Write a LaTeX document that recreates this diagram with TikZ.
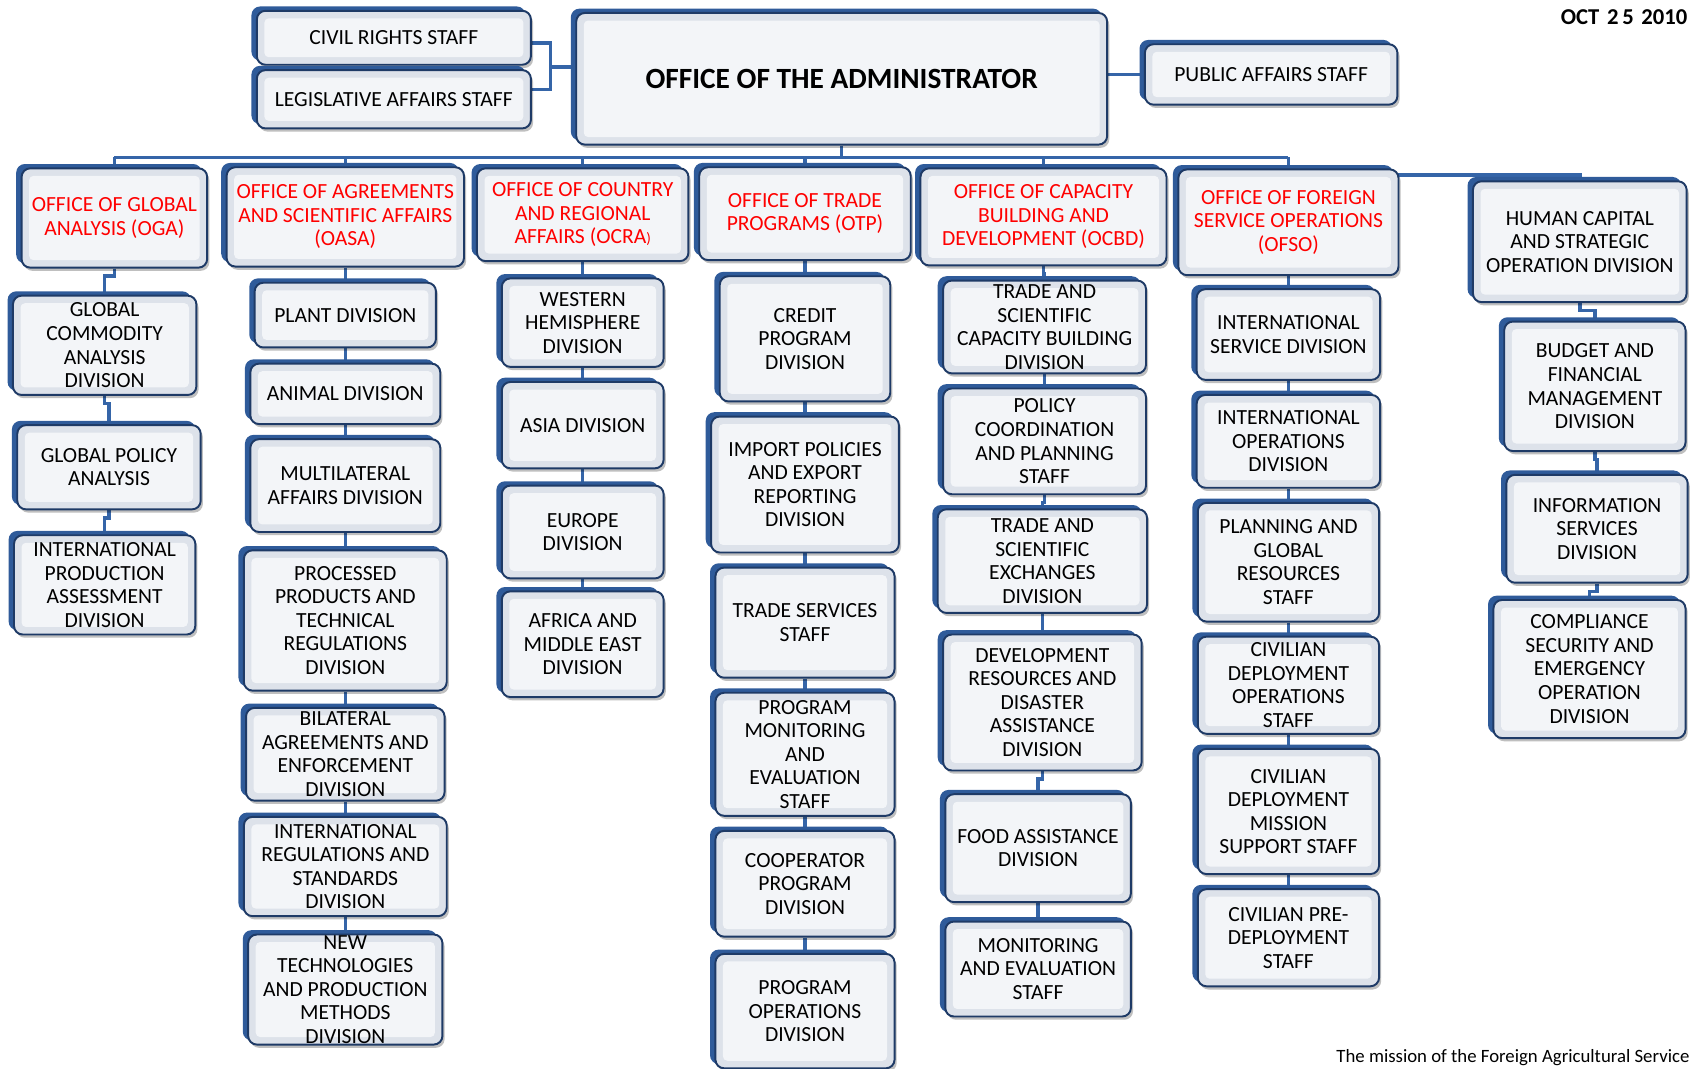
\documentclass[tikz,border=0pt]{standalone}
\usepackage{fontspec}
\setmainfont{Carlito}
\usetikzlibrary{shadows}
\usetikzlibrary{backgrounds}
\definecolor{linkblue}{HTML}{3565A8}
\definecolor{backblue}{HTML}{2F5B9A}
\definecolor{edgenavy}{HTML}{1E3A66}
\definecolor{boxfill}{HTML}{DDE2EA}
\definecolor{boxinner}{HTML}{F3F5F8}
\definecolor{headred}{HTML}{FF0000}
\newcommand\unitfont{\fontsize{10}{10.9}\selectfont}
\tikzset{x=0.5pt, y=-0.5pt, % one unit is one pixel of the chart
      unitbox/.style={ % Sets the properties for each office box
      rectangle, rounded corners=4pt,
      draw=edgenavy, line width=0.9pt,
      fill=boxfill, align=center, font=\unitfont,
      inner xsep=2pt, inner ysep=0pt,
      drop shadow={fill=black, opacity=0.25, shadow xshift=1pt, shadow yshift=-1.5pt},
      general shadow={fill=backblue, shadow xshift=-2.5pt, shadow yshift=2pt},
      path picture={\fill[boxinner, rounded corners=2pt]
            ([shift={(3.5pt,3.5pt)}]path picture bounding box.south west) rectangle
            ([shift={(-3.5pt,-3.5pt)}]path picture bounding box.north east);}},
      headbox/.style={unitbox, text=headred}, % Red office headers
      sz/.style 2 args={minimum width=#1*0.5pt, minimum height=#2*0.5pt},
      link/.style={draw=linkblue, line width=1.6pt}} % Connectors

\begin{document}
\begin{tikzpicture}
      \useasboundingbox (0,0) rectangle (1568,990);
      % top level
      \node[unitbox, sz={254}{50}] (civil) at (365,35) {CIVIL RIGHTS STAFF};
      \node[unitbox, sz={254}{54}] (legis) at (365,92) {LEGISLATIVE AFFAIRS STAFF};
      \node[unitbox, sz={492}{122}, font=\fontsize{13.6}{15}\selectfont\bfseries] (admin) at (780,73) {OFFICE OF THE ADMINISTRATOR};
      \node[unitbox, sz={234}{56}] (public) at (1178,69) {PUBLIC AFFAIRS STAFF};
      % offices
      \node[headbox, sz={172}{92}] (oga) at (106,202) {OFFICE OF GLOBAL\\ANALYSIS (OGA)};
      \node[headbox, sz={220}{92}] (oasa) at (320,201) {OFFICE OF AGREEMENTS\\AND SCIENTIFIC AFFAIRS\\(OASA)};
      \node[headbox, sz={196}{86}] (ocra) at (540,199) {OFFICE OF COUNTRY\\AND REGIONAL\\AFFAIRS (OCRA{\scriptsize)}};
      \node[headbox, sz={196}{86}] (otp) at (746,198) {OFFICE OF TRADE\\PROGRAMS (OTP)};
      \node[headbox, sz={228}{90}] (ocbd) at (967,201) {OFFICE OF CAPACITY\\BUILDING AND\\DEVELOPMENT (OCBD)};
      \node[headbox, sz={204}{98}] (ofso) at (1194,206) {OFFICE OF FOREIGN\\SERVICE OPERATIONS\\(OFSO)};
      \node[unitbox, sz={198}{112}] (hc) at (1464,224) {HUMAN CAPITAL\\AND STRATEGIC\\OPERATION DIVISION};
      % OGA
      \node[unitbox, sz={170}{92}] (gca) at (97,320) {GLOBAL\\COMMODITY\\ANALYSIS\\DIVISION};
      \node[unitbox, sz={170}{78}] (gpa) at (101,433) {GLOBAL POLICY\\ANALYSIS};
      \node[unitbox, sz={168}{92}] (ipa) at (97,542) {INTERNATIONAL\\PRODUCTION\\ASSESSMENT\\DIVISION};
      % OASA
      \node[unitbox, sz={168}{60}] (plant) at (320,292) {PLANT DIVISION};
      \node[unitbox, sz={176}{56}] (animal) at (320,365) {ANIMAL DIVISION};
      \node[unitbox, sz={176}{86}] (multi) at (320,450) {MULTILATERAL\\AFFAIRS DIVISION};
      \node[unitbox, sz={188}{130}] (procp) at (320,575) {PROCESSED\\PRODUCTS AND\\TECHNICAL\\REGULATIONS\\DIVISION};
      \node[unitbox, sz={184}{86}] (bilat) at (320,699) {BILATERAL\\AGREEMENTS AND\\ENFORCEMENT\\DIVISION};
      \node[unitbox, sz={188}{92}] (intreg) at (320,803) {INTERNATIONAL\\REGULATIONS AND\\STANDARDS\\DIVISION};
      \node[unitbox, sz={180}{102}] (newtech) at (320,917) {NEW\\TECHNOLOGIES\\AND PRODUCTION\\METHODS\\DIVISION};
      % OCRA
      \node[unitbox, sz={150}{82}] (whd) at (540,299) {WESTERN\\HEMISPHERE\\DIVISION};
      \node[unitbox, sz={150}{80}] (asia) at (540,394) {ASIA DIVISION};
      \node[unitbox, sz={150}{86}] (europe) at (540,493) {EUROPE\\DIVISION};
      \node[unitbox, sz={150}{98}] (africa) at (540,597) {AFRICA AND\\MIDDLE EAST\\DIVISION};
      % OTP
      \node[unitbox, sz={158}{116}] (credit) at (746,314) {CREDIT\\PROGRAM\\DIVISION};
      \node[unitbox, sz={174}{126}] (import) at (746,449) {IMPORT POLICIES\\AND EXPORT\\REPORTING\\DIVISION};
      \node[unitbox, sz={166}{102}] (tss) at (746,577) {TRADE SERVICES\\STAFF};
      \node[unitbox, sz={166}{114}] (pmes) at (746,699) {PROGRAM\\MONITORING\\AND\\EVALUATION\\STAFF};
      \node[unitbox, sz={166}{98}] (coop) at (746,819) {COOPERATOR\\PROGRAM\\DIVISION};
      \node[unitbox, sz={166}{106}] (progops) at (746,937) {PROGRAM\\OPERATIONS\\DIVISION};
      % OCBD
      \node[unitbox, sz={188}{86}] (tscb) at (968,303) {TRADE AND\\SCIENTIFIC\\CAPACITY BUILDING\\DIVISION};
      \node[unitbox, sz={188}{98}] (pcps) at (968,409) {POLICY\\COORDINATION\\AND PLANNING\\STAFF};
      \node[unitbox, sz={194}{96}] (tsed) at (966,520) {TRADE AND\\SCIENTIFIC\\EXCHANGES\\DIVISION};
      \node[unitbox, sz={184}{126}] (drda) at (966,651) {DEVELOPMENT\\RESOURCES AND\\DISASTER\\ASSISTANCE\\DIVISION};
      \node[unitbox, sz={172}{100}] (food) at (962,786) {FOOD ASSISTANCE\\DIVISION};
      \node[unitbox, sz={172}{88}] (mes) at (962,898) {MONITORING\\AND EVALUATION\\STAFF};
      % OFSO
      \node[unitbox, sz={170}{84}] (isd) at (1194,310) {INTERNATIONAL\\SERVICE DIVISION};
      \node[unitbox, sz={170}{86}] (iod) at (1194,409) {INTERNATIONAL\\OPERATIONS\\DIVISION};
      \node[unitbox, sz={168}{110}] (pgrs) at (1194,521) {PLANNING AND\\GLOBAL\\RESOURCES\\STAFF};
      \node[unitbox, sz={168}{90}] (cdos) at (1194,635) {CIVILIAN\\DEPLOYMENT\\OPERATIONS\\STAFF};
      \node[unitbox, sz={168}{116}] (cdmss) at (1194,752) {CIVILIAN\\DEPLOYMENT\\MISSION\\SUPPORT STAFF};
      \node[unitbox, sz={168}{90}] (cpds) at (1194,869) {CIVILIAN PRE-\\DEPLOYMENT\\STAFF};
      % human capital
      \node[unitbox, sz={168}{120}] (bfmd) at (1478,358) {BUDGET AND\\FINANCIAL\\MANAGEMENT\\DIVISION};
      \node[unitbox, sz={168}{100}] (isdiv) at (1480,490) {INFORMATION\\SERVICES\\DIVISION};
      \node[unitbox, sz={178}{128}] (csed) at (1473,620) {COMPLIANCE\\SECURITY AND\\EMERGENCY\\OPERATION\\DIVISION};
      % stamp and footer
      \node[font=\fontsize{10.5}{12}\selectfont\bfseries] (stamp) at (1505,16) {OCT\,\,2\,5\,\,2010};
      \node[font=\fontsize{8.7}{10}\selectfont, anchor=east, inner sep=0pt] (mission) at (1566,980) {The mission of the Foreign Agricultural Service};
      \begin{scope}[on background layer]
      \draw[link] (admin.south) -- ++(0,11) coordinate (bus);
      \draw[link] (oga.north |- bus) -- (ofso.north |- bus);
      \foreach \h in {oga,oasa,ocra,otp,ocbd,ofso}
            \draw[link] (\h.north |- bus) -- (\h.north);
      \draw[link] ([yshift=-3pt]ofso.north) -| (hc.north);
      \coordinate (brk) at (510,62);
      \draw[link] ([yshift=-2.5pt]civil.east) -| (brk) |- ([yshift=4.5pt]legis.east);
      \draw[link] (brk) -- (brk -| admin.west);
      \draw[link] (public.west) -- (public.west -| admin.east);
      \foreach \a/\b in {oga/gca, gca/gpa, gpa/ipa,
            oasa/plant, plant/animal, animal/multi, multi/procp, procp/bilat, bilat/intreg, intreg/newtech,
            ocra/whd, whd/asia, asia/europe, europe/africa,
            otp/credit, credit/import, import/tss, tss/pmes, pmes/coop, coop/progops,
            ocbd/tscb, tscb/pcps, pcps/tsed, tsed/drda, drda/food, food/mes,
            ofso/isd, isd/iod, iod/pgrs, pgrs/cdos, cdos/cdmss, cdmss/cpds,
            hc/bfmd, bfmd/isdiv, isdiv/csed}
            \draw[link] (\a.south) -- ++(0,7) -| (\b.north);
      \end{scope}
\end{tikzpicture}
\end{document}
